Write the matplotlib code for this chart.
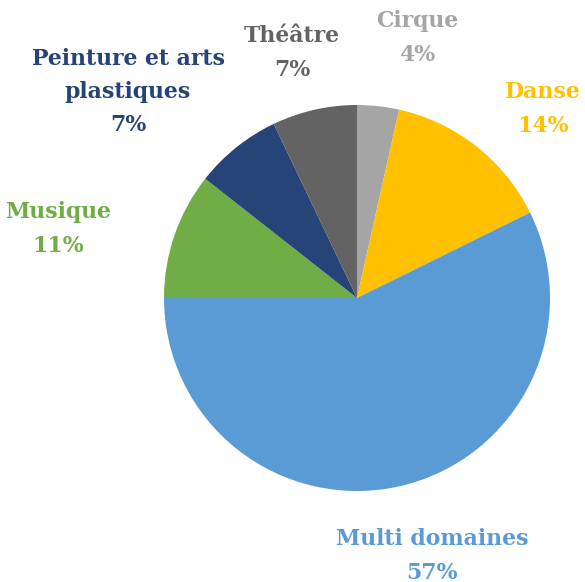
import matplotlib
matplotlib.use("Agg")
import matplotlib.pyplot as plt

categories = ["Cirque", "Danse", "Multi domaines", "Musique", "Peinture et arts\nplastiques", "Théâtre"]
values = [3.5, 14.2, 57.3, 10.6, 7.3, 7.1]
pct_labels = ["4%", "14%", "57%", "11%", "7%", "7%"]
colors = ["#A5A5A5", "#FFC000", "#5B9BD5", "#70AD47", "#264478", "#636363"]

# label anchor positions (pixels, layout only)
label_pos = [(417, 38), (543, 109), (432, 556), (58, 229), (128, 92), (292, 53)]

W, H = 585, 582
fig = plt.figure(figsize=(W / 100, H / 100), dpi=100)
ax = fig.add_axes([0, 0, 1, 1])

cx, cy, r = 357, 298, 193
wedges, _ = ax.pie(values, colors=colors, startangle=-90, counterclock=True,
                   center=(cx, cy), radius=r, frame=True,
                   wedgeprops=dict(linewidth=0))
ax.set_xlim(0, W)
ax.set_ylim(H, 0)
ax.set_aspect("equal")
ax.axis("off")

for cat, pct, col, (x, y) in zip(categories, pct_labels, colors, label_pos):
    ax.text(x, y, f"{cat}\n{pct}", ha="center", va="center", color=col,
            fontsize=15.8, fontweight="bold", family="DejaVu Serif",
            linespacing=1.65)

fig.savefig("out.png", dpi=100)
